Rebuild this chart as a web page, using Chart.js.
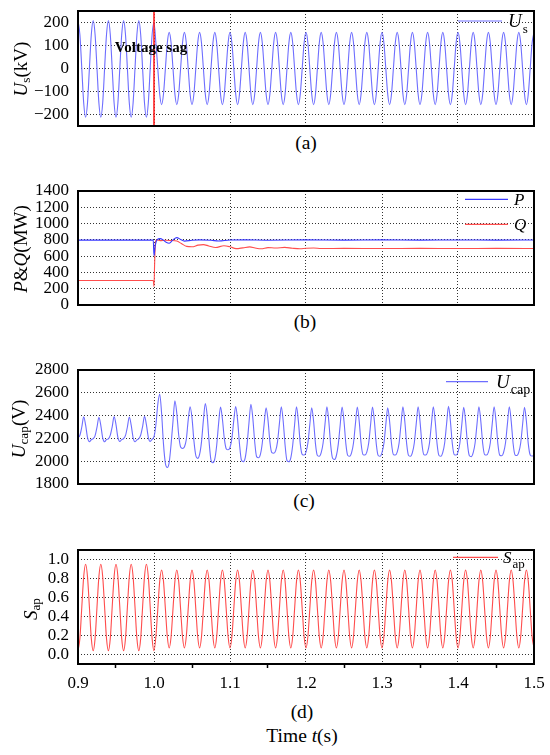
<!DOCTYPE html>
<html>
<head>
<meta charset="utf-8">
<title>Voltage sag response</title>
<script src="https://cdn.jsdelivr.net/npm/chart.js@4.4.1/dist/chart.umd.min.js"></script>
<style>
  html, body { margin: 0; padding: 0; background: #fff; }
  #fig { position: relative; width: 550px; height: 755px; font-family: "Liberation Serif", "Times New Roman", serif; color: #000; }
  #fig canvas { position: absolute; left: 0; }
  .lbl { position: absolute; white-space: nowrap; line-height: 1; transform: translate(-50%, -50%); }
  .ytitle { font-size: 19px; transform: translate(-50%, -50%) rotate(-90deg); }
  .cap { font-size: 19.5px; }
  sub { font-size: 70%; vertical-align: -0.3em; line-height: 0; }
</style>
</head>
<body>
<div id="fig">
  <canvas id="chartA" width="550" height="130" style="top:1px"></canvas>
  <canvas id="chartB" width="550" height="129" style="top:181px"></canvas>
  <canvas id="chartC" width="550" height="129" style="top:360px"></canvas>
  <canvas id="chartD" width="550" height="152" style="top:540px"></canvas>

  <div class="lbl ytitle" style="left:20px; top:69px"><i>U</i><sub>s</sub>(kV)</div>
  <div class="lbl ytitle" style="left:20px; top:249px"><i>P</i>&amp;<i>Q</i>(MW)</div>
  <div class="lbl ytitle" style="left:18px; top:429px"><i>U</i><sub>cap</sub>(V)</div>
  <div class="lbl ytitle" style="left:30px; top:609px"><i>S</i><sub>ap</sub></div>

  <div class="lbl cap" style="left:306px; top:143px">(a)</div>
  <div class="lbl cap" style="left:305px; top:322px">(b)</div>
  <div class="lbl cap" style="left:304px; top:501px">(c)</div>
  <div class="lbl cap" style="left:302px; top:712px">(d)</div>
  <div class="lbl cap" style="left:302px; top:736px">Time <i>t</i>(s)</div>
</div>

<script>
const timeStart = 0.9;
const timeEnd = 1.5;
const sagTime = 1.0;

const xMajorTicks = [0.9, 1.0, 1.1, 1.2, 1.3, 1.4, 1.5];
const xMajorLabels = ["0.9", "1.0", "1.1", "1.2", "1.3", "1.4", "1.5"];
const xMinorTicks = [0.95, 1.05, 1.15, 1.25, 1.35, 1.45];

const usTicks = [-200, -100, 0, 100, 200];
const pqTicks = [0, 200, 400, 600, 800, 1000, 1200, 1400];
const ucapTicks = [1800, 2000, 2200, 2400, 2600, 2800];
const sapTicks = [0, 0.2, 0.4, 0.6, 0.8, 1.0];

// (a) grid voltage Us in kV, one sample every 2.5 ms from 0.9 s
const usStep = 0.0025;
const usValues = [
  208, 147, 0, -150, -212, -150, 0, 147,
  208, 147, 0, -150, -212, -150, 0, 147,
  208, 147, 0, -150, -212, -150, 0, 147,
  208, 147, 0, -150, -212, -150, 0, 147,
  208, 147, 0, -150, -212, -150, 0, 147,
  200,
  111, 0, -111, -157, -111, 0, 111, 157,
  111, 0, -111, -157, -111, 0, 111, 157,
  111, 0, -111, -157, -111, 0, 111, 157,
  111, 0, -111, -157, -111, 0, 111, 157,
  111, 0, -111, -157, -111, 0, 111, 157,
  111, 0, -111, -157, -111, 0, 111, 157,
  111, 0, -111, -157, -111, 0, 111, 157,
  111, 0, -111, -157, -111, 0, 111, 157,
  111, 0, -111, -157, -111, 0, 111, 157,
  111, 0, -111, -157, -111, 0, 111, 157,
  111, 0, -111, -157, -111, 0, 111, 157,
  111, 0, -111, -157, -111, 0, 111, 157,
  111, 0, -111, -157, -111, 0, 111, 157,
  111, 0, -111, -157, -111, 0, 111, 157,
  111, 0, -111, -157, -111, 0, 111, 157,
  111, 0, -111, -157, -111, 0, 111, 157,
  111, 0, -111, -157, -111, 0, 111, 157,
  111, 0, -111, -157, -111, 0, 111, 157,
  111, 0, -111, -157, -111, 0, 111, 157,
  111, 0, -111, -157, -111, 0, 111, 157,
  111, 0, -111, -157, -111, 0, 111, 157,
  111, 0, -111, -157, -111, 0, 111, 157,
  111, 0, -111, -157, -111, 0, 111, 157,
  111, 0, -111, -157, -111, 0, 111, 157,
  111, 0, -111, -157, -111, 0, 111, 157
];

// (b) active and reactive power in MW
const pTimes = [0.9, 0.95, 0.999, 1.0, 1.0015, 1.004, 1.008, 1.012, 1.016, 1.02, 1.025, 1.03, 1.035, 1.04,
  1.05, 1.06, 1.075, 1.085, 1.1, 1.12, 1.15, 1.2, 1.25, 1.3, 1.35, 1.4, 1.45, 1.5];
const pValues = [797, 797, 797, 605, 720, 800, 815, 800, 770, 758, 800, 828, 805, 785,
  795, 800, 795, 786, 798, 800, 796, 800, 797, 800, 797, 799, 797, 799];
const qTimes = [0.9, 0.999, 1.0, 1.0008, 1.002, 1.004, 1.008, 1.015, 1.022, 1.03, 1.036, 1.043, 1.05,
  1.058, 1.065, 1.072, 1.081, 1.092, 1.1, 1.108, 1.117, 1.126, 1.133, 1.141, 1.15, 1.16, 1.172,
  1.182, 1.192, 1.2, 1.21, 1.22, 1.25, 1.3, 1.35, 1.4, 1.45, 1.5];
const qValues = [300, 300, 225, 500, 780, 800, 790, 795, 792, 785, 755, 720, 715,
  735, 742, 725, 706, 728, 715, 692, 702, 714, 700, 690, 705, 700, 708,
  697, 690, 696, 700, 694, 695, 694, 695, 694, 695, 694];

// (c) capacitor voltage Ucap in V, one sample every 2.5 ms from 0.9 s (one row = 20 ms)
const ucapStep = 0.0025;
const ucapValues = [
  2205, 2228, 2300, 2390, 2318, 2210, 2172, 2188,
  2198, 2225, 2298, 2385, 2315, 2205, 2170, 2190,
  2196, 2228, 2302, 2392, 2320, 2208, 2173, 2189,
  2198, 2226, 2300, 2388, 2316, 2206, 2170, 2187,
  2197, 2230, 2304, 2394, 2320, 2210, 2174, 2192,
  2215, 2320, 2500, 2590, 2420, 2150, 1980, 1945,
  1990, 2150, 2350, 2530, 2420, 2230, 2125, 2112,
  2125, 2190, 2360, 2478, 2380, 2180, 2050, 2025,
  2060, 2170, 2360, 2505, 2400, 2170, 2010, 1986,
  2020, 2140, 2330, 2474, 2370, 2200, 2110, 2100,
  2120, 2200, 2360, 2480, 2360, 2150, 2010, 1995,
  2030, 2150, 2340, 2500, 2380, 2170, 2040, 2030,
  2060, 2160, 2330, 2468, 2360, 2170, 2075, 2070,
  2090, 2170, 2330, 2478, 2350, 2140, 2005, 1995,
  2030, 2140, 2320, 2478, 2350, 2150, 2060, 2054,
  2080, 2160, 2320, 2468, 2350, 2150, 2050, 2044,
  2075, 2160, 2325, 2478, 2350, 2140, 2025, 2015,
  2050, 2150, 2320, 2475, 2350, 2150, 2050, 2044,
  2075, 2160, 2325, 2475, 2352, 2155, 2058, 2054,
  2080, 2160, 2322, 2475, 2350, 2150, 2050, 2044,
  2075, 2155, 2320, 2468, 2350, 2155, 2058, 2054,
  2080, 2160, 2325, 2478, 2350, 2150, 2050, 2044,
  2075, 2160, 2325, 2478, 2352, 2155, 2058, 2054,
  2080, 2160, 2325, 2478, 2350, 2150, 2050, 2044,
  2078, 2162, 2328, 2482, 2352, 2155, 2058, 2054,
  2080, 2160, 2322, 2472, 2350, 2150, 2048, 2040,
  2075, 2160, 2325, 2478, 2352, 2155, 2058, 2054,
  2080, 2160, 2325, 2478, 2350, 2150, 2052, 2048,
  2078, 2160, 2325, 2478, 2352, 2155, 2056, 2050,
  2080, 2160, 2322, 2472, 2350, 2152, 2055, 2045,
  2050
];

// (d) switching signal Sap, one sample every 2.5 ms from 0.9 s
const sapStep = 0.0025;
const sapValues = [
  0.04, 0.17, 0.50, 0.82, 0.95, 0.82, 0.50, 0.17,
  0.04, 0.17, 0.50, 0.82, 0.95, 0.82, 0.50, 0.17,
  0.04, 0.17, 0.50, 0.82, 0.95, 0.82, 0.50, 0.17,
  0.04, 0.17, 0.50, 0.82, 0.95, 0.82, 0.50, 0.17,
  0.04, 0.17, 0.50, 0.82, 0.95, 0.82, 0.50, 0.17,
  0.04,
  0.19, 0.48, 0.77, 0.89, 0.77, 0.48, 0.19, 0.07,
  0.19, 0.48, 0.77, 0.89, 0.77, 0.48, 0.19, 0.07,
  0.19, 0.48, 0.77, 0.89, 0.77, 0.48, 0.19, 0.07,
  0.19, 0.48, 0.77, 0.89, 0.77, 0.48, 0.19, 0.07,
  0.19, 0.48, 0.77, 0.89, 0.77, 0.48, 0.19, 0.07,
  0.19, 0.48, 0.77, 0.89, 0.77, 0.48, 0.19, 0.07,
  0.19, 0.48, 0.77, 0.89, 0.77, 0.48, 0.19, 0.07,
  0.19, 0.48, 0.77, 0.89, 0.77, 0.48, 0.19, 0.07,
  0.19, 0.48, 0.77, 0.89, 0.77, 0.48, 0.19, 0.07,
  0.19, 0.48, 0.77, 0.89, 0.77, 0.48, 0.19, 0.07,
  0.19, 0.48, 0.77, 0.89, 0.77, 0.48, 0.19, 0.07,
  0.19, 0.48, 0.77, 0.89, 0.77, 0.48, 0.19, 0.07,
  0.19, 0.48, 0.77, 0.89, 0.77, 0.48, 0.19, 0.07,
  0.19, 0.48, 0.77, 0.89, 0.77, 0.48, 0.19, 0.07,
  0.19, 0.48, 0.77, 0.89, 0.77, 0.48, 0.19, 0.07,
  0.19, 0.48, 0.77, 0.89, 0.77, 0.48, 0.19, 0.07,
  0.19, 0.48, 0.77, 0.89, 0.77, 0.48, 0.19, 0.07,
  0.19, 0.48, 0.77, 0.89, 0.77, 0.48, 0.19, 0.07,
  0.19, 0.48, 0.77, 0.89, 0.77, 0.48, 0.19, 0.07,
  0.19, 0.48, 0.77, 0.89, 0.77, 0.48, 0.19, 0.07,
  0.19, 0.48, 0.77, 0.89, 0.77, 0.48, 0.19, 0.07,
  0.19, 0.48, 0.77, 0.89, 0.77, 0.48, 0.19, 0.07,
  0.19, 0.48, 0.77, 0.89, 0.77, 0.48, 0.19, 0.07,
  0.19, 0.48, 0.77, 0.89, 0.77, 0.48, 0.19, 0.07,
  0.19, 0.48, 0.77, 0.89, 0.77, 0.48, 0.19, 0.07
];

const FONT = "Liberation Serif";
const GRID = "rgba(0,0,0,0.8)";
const BLUE = "#6e6eff";
const DARK_BLUE = "#3838ff";
const RED = "#ff4d4d";

Chart.defaults.font.family = FONT;

function sampled(values, step) {
  return values.map((v, i) => ({ x: +(timeStart + i * step).toFixed(4), y: v }));
}

function paired(times, values) {
  return times.map((t, i) => ({ x: t, y: values[i] }));
}

function majorIndex(v) {
  return xMajorTicks.findIndex(t => Math.abs(t - v) < 1e-6);
}

// black box around each plot
const framePlugin = {
  id: "frame",
  afterDraw(chart) {
    const { ctx, chartArea: a } = chart;
    ctx.save();
    ctx.strokeStyle = "#000";
    ctx.lineWidth = 2;
    ctx.strokeRect(a.left, a.top, a.right - a.left, a.bottom - a.top);
    ctx.restore();
  }
};

// legend with italic symbol and subscript
const subLegendPlugin = {
  id: "subLegend",
  afterDraw(chart, args, opts) {
    if (!opts.items) return;
    const { ctx, chartArea: a } = chart;
    opts.items.forEach(item => {
      const y = a.top + item.dy;
      ctx.save();
      ctx.strokeStyle = item.color;
      ctx.lineWidth = 1.2;
      ctx.beginPath();
      ctx.moveTo(a.right - opts.lineFrom, y);
      ctx.lineTo(a.right - opts.lineTo, y);
      ctx.stroke();
      ctx.fillStyle = "#000";
      ctx.textBaseline = "alphabetic";
      ctx.font = "italic " + opts.size + "px '" + FONT + "', serif";
      const x = a.right - opts.textAt;
      const base = y + opts.size * 0.33;
      ctx.fillText(item.main, x, base);
      if (item.sub) {
        const w = ctx.measureText(item.main).width;
        ctx.font = opts.subSize + "px '" + FONT + "', serif";
        ctx.fillText(item.sub, x + w + 1, base + opts.size * 0.32);
      }
      ctx.restore();
    });
  }
};

// bold annotation placed in data units
const notePlugin = {
  id: "note",
  afterDatasetsDraw(chart, args, opts) {
    if (!opts.text) return;
    const ctx = chart.ctx;
    ctx.save();
    ctx.font = "bold 15px '" + FONT + "', serif";
    ctx.fillStyle = "#000";
    ctx.textAlign = "center";
    ctx.textBaseline = "middle";
    ctx.fillText(opts.text, chart.scales.x.getPixelForValue(opts.x), chart.scales.y.getPixelForValue(opts.y));
    ctx.restore();
  }
};

Chart.register(framePlugin, subLegendPlugin, notePlugin);

function makeChart(id, datasets, yMin, yMax, yTicks, yFormat, legend, showX, note) {
  const xTickValues = showX ? xMajorTicks.concat(xMinorTicks).sort((a, b) => a - b) : xMajorTicks;
  return new Chart(document.getElementById(id), {
    type: "line",
    data: { datasets: datasets },
    options: {
      responsive: false,
      animation: false,
      layout: { padding: { top: 10, right: 16, bottom: showX ? 0 : 5, left: 0 } },
      elements: {
        point: { radius: 0 },
        line: { borderWidth: 1.1, cubicInterpolationMode: "monotone" }
      },
      plugins: {
        legend: { display: false },
        tooltip: { enabled: false },
        subLegend: legend,
        note: note || {}
      },
      scales: {
        x: {
          type: "linear",
          min: timeStart,
          max: timeEnd,
          afterBuildTicks: s => { s.ticks = xTickValues.map(v => ({ value: v })); },
          afterFit: s => { s.height = showX ? 28 : 0; s.paddingLeft = 0; s.paddingRight = 0; },
          border: { display: false, dash: [1, 2] },
          grid: {
            drawTicks: showX,
            tickLength: 4,
            tickWidth: 1.5,
            tickBorderDash: [],
            color: c => majorIndex(c.tick.value) >= 0 ? GRID : "rgba(0,0,0,0)",
            tickColor: c => majorIndex(c.tick.value) >= 0 ? "rgba(0,0,0,0)" : "#000"
          },
          ticks: {
            display: showX,
            autoSkip: false,
            maxRotation: 0,
            padding: 5,
            color: "#000",
            font: { family: FONT, size: 17 },
            callback: v => {
              const i = majorIndex(v);
              return i >= 0 ? xMajorLabels[i] : "";
            }
          }
        },
        y: {
          min: yMin,
          max: yMax,
          afterBuildTicks: s => { s.ticks = yTicks.map(v => ({ value: v })); },
          afterFit: s => { s.width = 78; s.paddingTop = 0; s.paddingBottom = 0; },
          border: { display: false, dash: [1, 2] },
          grid: { drawTicks: false, color: GRID },
          ticks: {
            autoSkip: false,
            padding: 9,
            color: "#000",
            font: { family: FONT, size: 17 },
            callback: yFormat
          }
        }
      }
    }
  });
}

const intLabel = v => (v < 0 ? "\u2212" + Math.abs(v) : String(v));

makeChart("chartA", [
  { data: [{ x: sagTime, y: -250 }, { x: sagTime, y: 250 }], borderColor: "#ff2020", borderWidth: 1.6, cubicInterpolationMode: "default", tension: 0 },
  { data: sampled(usValues, usStep), borderColor: BLUE }
], -250, 250, usTicks, intLabel,
  { lineFrom: 76, lineTo: 32, textAt: 26, size: 19, subSize: 13, items: [{ main: "U", sub: "s", color: BLUE, dy: 10 }] },
  false,
  { text: "Voltage sag", x: 0.996, y: 90 });

makeChart("chartB", [
  { data: paired(pTimes, pValues), borderColor: DARK_BLUE },
  { data: paired(qTimes, qValues), borderColor: RED }
], 0, 1400, pqTicks, intLabel,
  { lineFrom: 69, lineTo: 26, textAt: 20, size: 17, subSize: 12, items: [
    { main: "P", color: DARK_BLUE, dy: 8.3 },
    { main: "Q", color: RED, dy: 33.3 }
  ] },
  false);

makeChart("chartC", [
  { data: sampled(ucapValues, ucapStep), borderColor: BLUE }
], 1800, 2800, ucapTicks, intLabel,
  { lineFrom: 88, lineTo: 46, textAt: 38, size: 19, subSize: 14, items: [{ main: "U", sub: "cap", color: BLUE, dy: 11.7 }] },
  false);

makeChart("chartD", [
  { data: sampled(sapValues, sapStep), borderColor: RED }
], -0.1, 1.1, sapTicks, v => v.toFixed(1),
  { lineFrom: 81, lineTo: 36, textAt: 31, size: 17, subSize: 13, items: [{ main: "S", sub: "ap", color: RED, dy: 7.3 }] },
  true);
</script>
</body>
</html>
